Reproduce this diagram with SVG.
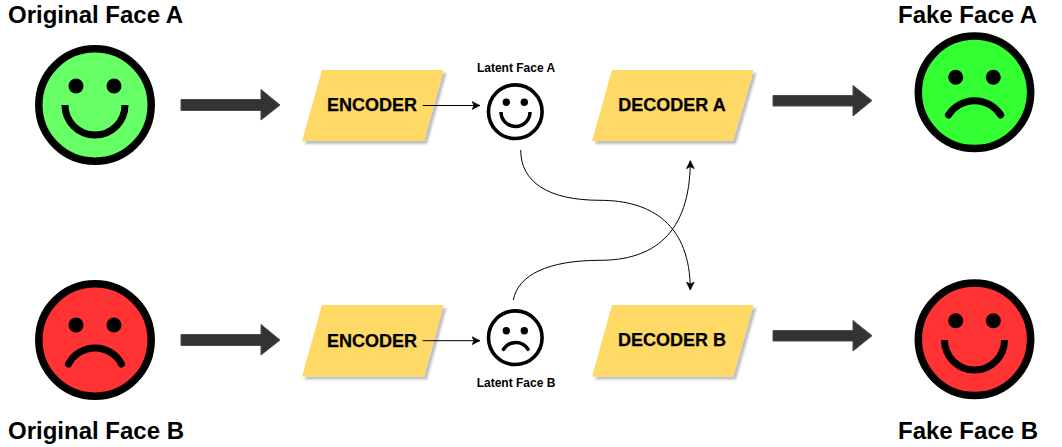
<svg xmlns="http://www.w3.org/2000/svg" width="1062" height="447" viewBox="0 0 1062 447">
<style>
text{font-family:"Liberation Sans",Arial,sans-serif;font-weight:bold;fill:#000}
.t{font-size:24px}.m{font-size:18px;text-anchor:middle;stroke:#000;stroke-width:.25px}.s{font-size:12px;text-anchor:middle}
.f{stroke:#000;stroke-width:7.5}.l{fill:none;stroke:#000;stroke-width:7}
.lf{fill:#fff;stroke:#000;stroke-width:3.6}.ll{fill:none;stroke:#000;stroke-width:3.5}
.p{fill:#FFD966;filter:url(#sh)}
.fat{fill:#333;stroke:#4d4d4d;stroke-width:1}
.c{fill:none;stroke:#000;stroke-width:1}
</style>
<defs>
<filter id="sh" x="-10%" y="-10%" width="125%" height="130%"><feDropShadow dx="3" dy="3" stdDeviation="1.3" flood-color="#000" flood-opacity=".25"/></filter>
<marker id="ah" viewBox="0 0 9 9" refX="8.5" refY="4.5" markerWidth="9" markerHeight="9" markerUnits="userSpaceOnUse" orient="auto"><path d="M0.500 .5L8.500 4.500L0.500 8.500L2.500 4.500Z" fill="#000" stroke="#000" stroke-width=".6"/></marker>
</defs>

<g id="original-face-a">
<circle class="f" cx="95" cy="105" r="56.200" fill="#66FF66"/>
<circle cx="76" cy="86" r="7.500"/><circle cx="114" cy="86" r="7.500"/>
<path class="l" d="M65 105A30 30 0 0 0 125 105"/>
<text class="t" x="8" y="23">Original Face A</text>
</g>
<g id="original-face-b">
<circle class="f" cx="95" cy="340" r="56.200" fill="#FF3333"/>
<circle cx="76" cy="325" r="7.500"/><circle cx="114" cy="325" r="7.500"/>
<path class="l" stroke-linecap="round" d="M68.500 364A30 30 0 0 1 121.500 364"/>
<text class="t" x="8" y="439">Original Face B</text>
</g>
<g id="encoder-a"><path class="p" d="M322 70H443.500L424 141H302Z"/><text class="m" x="372" y="111">ENCODER</text></g>
<g id="encoder-b"><path class="p" d="M322 305H443.500L424 376.500H302Z"/><text class="m" x="372" y="347">ENCODER</text></g>
<g id="latent-face-a">
<circle class="lf" cx="515.300" cy="111.700" r="26.800"/>
<circle cx="506.300" cy="102.300" r="3.700"/><circle cx="524.300" cy="102.300" r="3.700"/>
<path class="ll" d="M501 112A14.500 14.500 0 0 0 530 112"/>
<text class="s" x="516" y="71.500">Latent Face A</text>
</g>
<g id="latent-face-b">
<circle class="lf" cx="515.300" cy="337.700" r="26.800"/>
<circle cx="506.300" cy="330.700" r="3.700"/><circle cx="524.300" cy="330.700" r="3.700"/>
<path class="ll" stroke-linecap="round" d="M503.500 349.300A14.500 14.500 0 0 1 528 349.300"/>
<text class="s" x="516" y="387">Latent Face B</text>
</g>
<g id="decoder-a"><path class="p" d="M612 70H753.500L733 141H592Z"/><text class="m" x="672" y="111">DECODER A</text></g>
<g id="decoder-b"><path class="p" d="M612 305H753.500L733 376.500H592Z"/><text class="m" x="672" y="346">DECODER B</text></g>
<g id="fake-face-a">
<circle class="f" cx="974.500" cy="92.300" r="56.200" fill="#33FF33"/>
<circle cx="955.700" cy="77.300" r="7.500"/><circle cx="993.300" cy="77.300" r="7.500"/>
<path class="l" stroke-linecap="round" d="M948.500 115A31 31 0 0 1 1000.700 115"/>
<text class="t" x="898" y="23">Fake Face A</text>
</g>
<g id="fake-face-b">
<circle class="f" cx="974.500" cy="339.300" r="56.200" fill="#FF3333"/>
<circle cx="955.700" cy="320.700" r="7.500"/><circle cx="993.300" cy="320.700" r="7.500"/>
<path class="l" d="M944.500 340A30 30 0 0 0 1004.500 340"/>
<text class="t" x="898" y="439">Fake Face B</text>
</g>

<g id="connectors">
<path class="fat" d="M181 99.500H261V89.500L280 105L261 120V110.500H181Z"/>
<path class="fat" d="M181 334.500H261V324.500L280 340L261 355V345.500H181Z"/>
<path class="fat" d="M773 95.500H853V85.500L872 100.500L853 116V106H773Z"/>
<path class="fat" d="M773 330.500H853V320.500L872 335.700L853 351V341H773Z"/>
<path class="c" marker-end="url(#ah)" d="M422.700 105.500H480"/>
<path class="c" marker-end="url(#ah)" d="M422.700 340.700H480"/>
<path class="c" marker-end="url(#ah)" d="M520.700 150C520.700 182 548 200.300 600 200.300C652 200.300 690.300 225 690.300 290"/>
<path class="c" marker-end="url(#ah)" d="M513.300 300C518 275 548 260.300 600 260.300C652 260.300 690.300 235 690.300 160.700"/>
</g>
</svg>
